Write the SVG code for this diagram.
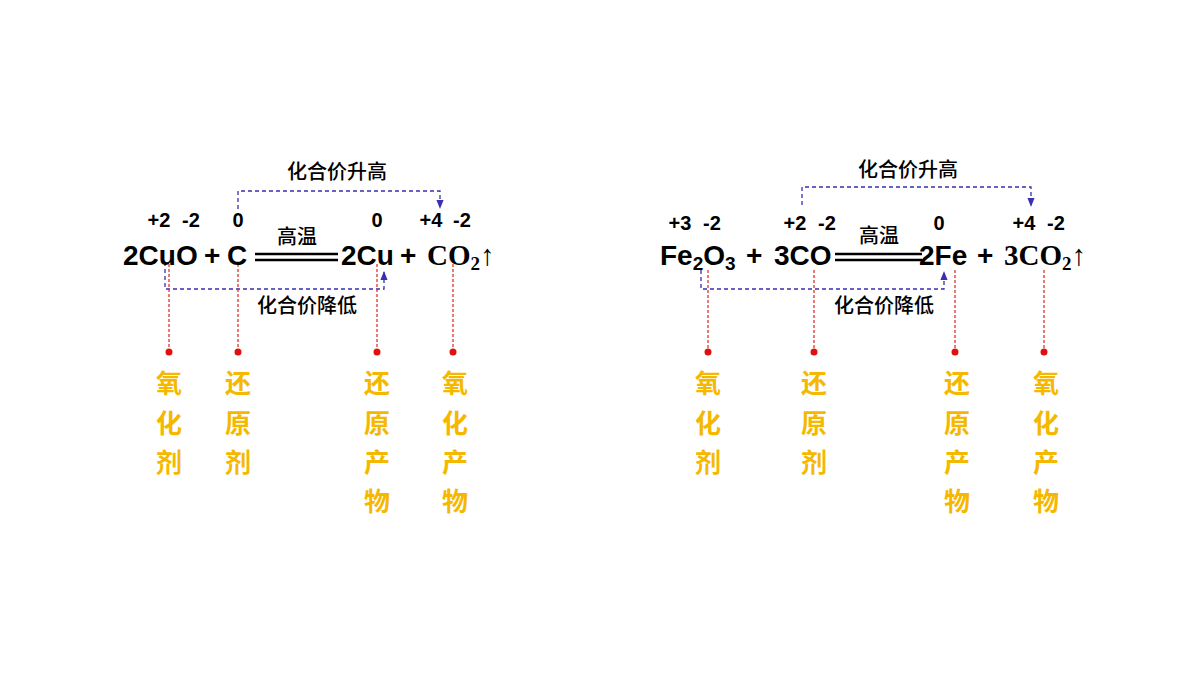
<svg xmlns="http://www.w3.org/2000/svg" width="1200" height="675" viewBox="0 0 1200 675">
<defs>
<marker id="ah" viewBox="0 0 10 10" refX="9" refY="5" markerWidth="7" markerHeight="7" orient="auto"><path d="M0,1 L10,5 L0,9 z" fill="#3a2fb0"/></marker>
<style>
.eq{font-family:"Liberation Sans",Arial,sans-serif;font-weight:bold;font-size:28px;fill:#000}
.sr{font-family:"Liberation Serif","Times New Roman",serif;font-weight:bold;font-size:29px;fill:#000}
.ox{font-family:"Liberation Sans",Arial,sans-serif;font-weight:bold;font-size:20px;fill:#000;text-anchor:middle}
.lb{font-family:"Noto Sans CJK SC",sans-serif;font-weight:500;font-size:20px;fill:#000;text-anchor:middle}
.cond{font-family:"Noto Sans CJK SC",sans-serif;font-weight:500;font-size:20px;fill:#000;text-anchor:middle}
.yl{font-family:"Noto Sans CJK SC",sans-serif;font-weight:bold;font-size:26px;fill:#f5b800;text-anchor:middle}
.bl{fill:none;stroke:#3a2fb0;stroke-width:1.3;stroke-dasharray:4,3}
.rd{fill:none;stroke:#e02020;stroke-width:1.2;stroke-dasharray:3,2}
.dot{fill:#e01010}
.dl{stroke:#000;stroke-width:2.5}
</style>
</defs>
<g id="connectors">
<path class="bl" d="M238,209 V191 H440 V208" marker-end="url(#ah)"/>
<path class="bl" d="M165,262 V289 H384 V272" marker-end="url(#ah)"/>
<path class="bl" d="M802,205 V187 H1031 V206" marker-end="url(#ah)"/>
<path class="bl" d="M701,270 V289 H944 V272" marker-end="url(#ah)"/>
<path class="rd" d="M169,264 V352 M238,264 V352 M377,264 V352 M453,264 V352 M708,270 V352 M814,270 V352 M955,270 V352 M1044,270 V352"/>
</g>
<g id="eq1">
<text class="eq" x="123" y="265">2CuO</text>
<text class="eq" x="204" y="265">+</text>
<text class="eq" x="227" y="265">C</text>
<line class="dl" x1="255" y1="254" x2="338" y2="254"/><line class="dl" x1="255" y1="260" x2="338" y2="260"/>
<text class="cond" x="297" y="244">高温</text>
<text class="eq" x="341" y="265">2Cu</text>
<text class="eq" x="400" y="265">+</text>
<text class="sr" x="427" y="265">CO<tspan font-size="19" dy="5">2</tspan><tspan dy="-5">↑</tspan></text>
<text class="ox" x="159" y="227">+2</text><text class="ox" x="191" y="227">-2</text>
<text class="ox" x="238" y="227">0</text><text class="ox" x="377" y="227">0</text>
<text class="ox" x="431" y="227">+4</text><text class="ox" x="462" y="227">-2</text>
<text class="lb" x="337" y="179">化合价升高</text>
<text class="lb" x="307" y="313">化合价降低</text>
</g>
<g id="eq2">
<text class="eq" x="660" y="265">Fe<tspan font-size="19" dy="5">2</tspan><tspan dy="-5">O</tspan><tspan font-size="19" dy="5">3</tspan></text>
<text class="eq" x="746" y="265">+</text>
<text class="eq" x="774" y="265">3CO</text>
<line class="dl" x1="835" y1="254" x2="922" y2="254"/><line class="dl" x1="835" y1="260" x2="922" y2="260"/>
<text class="cond" x="879" y="243">高温</text>
<text class="eq" x="919" y="265">2Fe</text>
<text class="eq" x="977" y="265">+</text>
<text class="sr" x="1004" y="265">3CO<tspan font-size="19" dy="5">2</tspan><tspan dy="-5">↑</tspan></text>
<text class="ox" x="680" y="230">+3</text><text class="ox" x="712" y="230">-2</text>
<text class="ox" x="795" y="230">+2</text><text class="ox" x="827" y="230">-2</text>
<text class="ox" x="939" y="230">0</text>
<text class="ox" x="1024" y="230">+4</text><text class="ox" x="1056" y="230">-2</text>
<text class="lb" x="908" y="177">化合价升高</text>
<text class="lb" x="884" y="313">化合价降低</text>
</g>
<g id="labels">
<circle class="dot" cx="169" cy="352" r="3.5"/><circle class="dot" cx="238" cy="352" r="3.5"/><circle class="dot" cx="377" cy="352" r="3.5"/><circle class="dot" cx="453" cy="352" r="3.5"/>
<circle class="dot" cx="708" cy="352" r="3.5"/><circle class="dot" cx="814" cy="352" r="3.5"/><circle class="dot" cx="955" cy="352" r="3.5"/><circle class="dot" cx="1044" cy="352" r="3.5"/>
<text class="yl" x="169" y="393">氧</text><text class="yl" x="169" y="433">化</text><text class="yl" x="169" y="472">剂</text>
<text class="yl" x="238" y="393">还</text><text class="yl" x="238" y="433">原</text><text class="yl" x="238" y="472">剂</text>
<text class="yl" x="377" y="393">还</text><text class="yl" x="377" y="433">原</text><text class="yl" x="377" y="472">产</text><text class="yl" x="377" y="511">物</text>
<text class="yl" x="455" y="393">氧</text><text class="yl" x="455" y="433">化</text><text class="yl" x="455" y="472">产</text><text class="yl" x="455" y="511">物</text>
<text class="yl" x="708" y="393">氧</text><text class="yl" x="708" y="433">化</text><text class="yl" x="708" y="472">剂</text>
<text class="yl" x="814" y="393">还</text><text class="yl" x="814" y="433">原</text><text class="yl" x="814" y="472">剂</text>
<text class="yl" x="957" y="393">还</text><text class="yl" x="957" y="433">原</text><text class="yl" x="957" y="472">产</text><text class="yl" x="957" y="511">物</text>
<text class="yl" x="1046" y="393">氧</text><text class="yl" x="1046" y="433">化</text><text class="yl" x="1046" y="472">产</text><text class="yl" x="1046" y="511">物</text>
</g>
</svg>
